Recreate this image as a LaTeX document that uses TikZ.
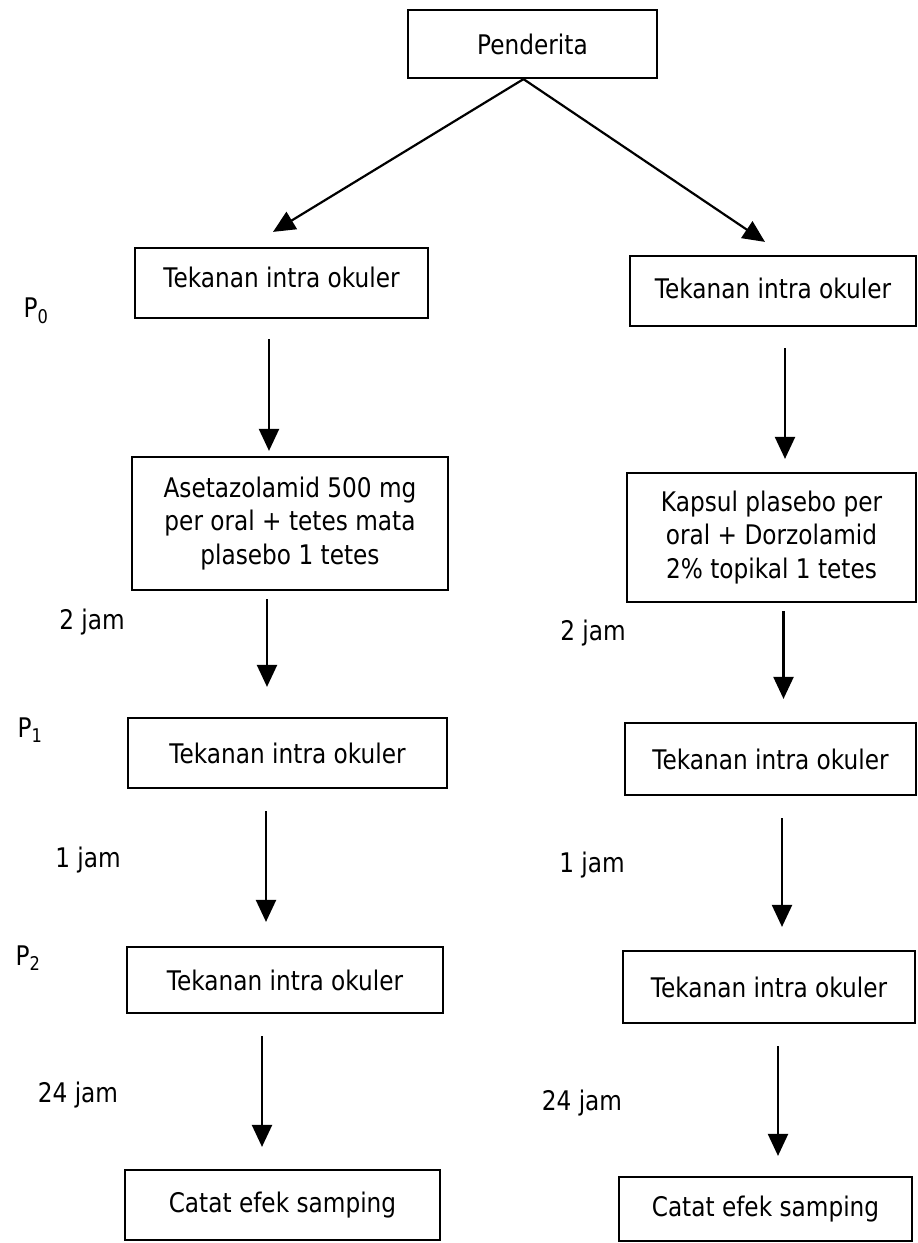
\documentclass[tikz,border=0pt]{standalone}
\usepackage{fontspec}
\setmainfont{DejaVu Sans}[FakeStretch=0.86]
\usetikzlibrary{arrows.meta,calc}
\begin{document}
\begin{tikzpicture}[x=1pt,y=-1pt,
  font=\fontsize{27}{33.5}\selectfont,
  box/.style={draw, line width=2.2pt, inner sep=0pt, align=center},
  arr/.style={-{Triangle[width=20pt,length=22pt]}, line width=2.2pt},
  lbl/.style={inner sep=0pt}]
\fill[white] (0,0) rectangle (918,1243);
\useasboundingbox (0,0) rectangle (918,1243);

% boxes
\node[box, minimum width=249pt, minimum height=68pt] (pen) at (532.5,44) {Penderita};
\node[box, minimum width=293pt, minimum height=70pt, text depth=12pt] (L0) at (281.5,283) {Tekanan intra okuler};
\node[box, minimum width=286pt, minimum height=70pt, text depth=6pt] (R0) at (773,291) {Tekanan intra okuler};
\node[box, minimum width=316pt, minimum height=133pt] (L1) at (290,523.5) {Asetazolamid 500 mg\\per oral + tetes mata\\plasebo 1 tetes};
\node[box, minimum width=289pt, minimum height=129pt] (R1) at (771.5,537.5) {Kapsul plasebo per\\oral + Dorzolamid\\2\% topikal 1 tetes};
\node[box, minimum width=319pt, minimum height=70pt] (L2) at (287.5,753) {Tekanan intra okuler};
\node[box, minimum width=291pt, minimum height=72pt] (R2) at (770.5,759) {Tekanan intra okuler};
\node[box, minimum width=316pt, minimum height=66pt] (L3) at (285,980) {Tekanan intra okuler};
\node[box, minimum width=292pt, minimum height=72pt] (R3) at (769,987) {Tekanan intra okuler};
\node[box, minimum width=315pt, minimum height=70pt] (L4) at (282.5,1205) {Catat efek samping};
\node[box, minimum width=293pt, minimum height=64pt] (R4) at (765.5,1209) {Catat efek samping};

% side labels
\node[lbl] (p0) at (36,311) {P\textsubscript{0}};
\node[lbl] (p1) at (30,730) {P\textsubscript{1}};
\node[lbl] (p2) at (28,958) {P\textsubscript{2}};
\node[lbl] (j2l) at (92,622) {2 jam};
\node[lbl] (j2r) at (593,633) {2 jam};
\node[lbl] (j1l) at (88,860) {1 jam};
\node[lbl] (j1r) at (592,865) {1 jam};
\node[lbl] (j24l) at (78,1095) {24 jam};
\node[lbl] (j24r) at (582,1103) {24 jam};

% connectors
\draw[arr] ($(pen.south)+(-9,0)$) -- ($(L0.north)+(-8.5,-15)$);
\draw[arr] ($(pen.south)+(-9,0)$) -- ($(R0.north)+(-8,-13)$);

\draw[arr] ($(L0.south)+(-12.5,20)$) -- ($(L1.north)+(-21,-5)$);
\draw[arr] ($(R0.south)+(12,21)$) -- ($(R1.north)+(13.5,-13)$);
\draw[arr] ($(L1.south)+(-23,8)$) -- ($(L2.north)+(-20.5,-30)$);
\draw[arr] ($(R1.south)+(12,8)$) -- ($(R2.north)+(13,-23)$);
\draw[arr] ($(L2.south)+(-21.5,22)$) -- ($(L3.north)+(-19,-24)$);
\draw[arr] ($(R2.south)+(11.5,22)$) -- ($(R3.north)+(13,-23)$);
\draw[arr] ($(L3.south)+(-23,22)$) -- ($(L4.north)+(-20.5,-22)$);
\draw[arr] ($(R3.south)+(9,22)$) -- ($(R4.north)+(12.5,-20)$);
\end{tikzpicture}
\end{document}
